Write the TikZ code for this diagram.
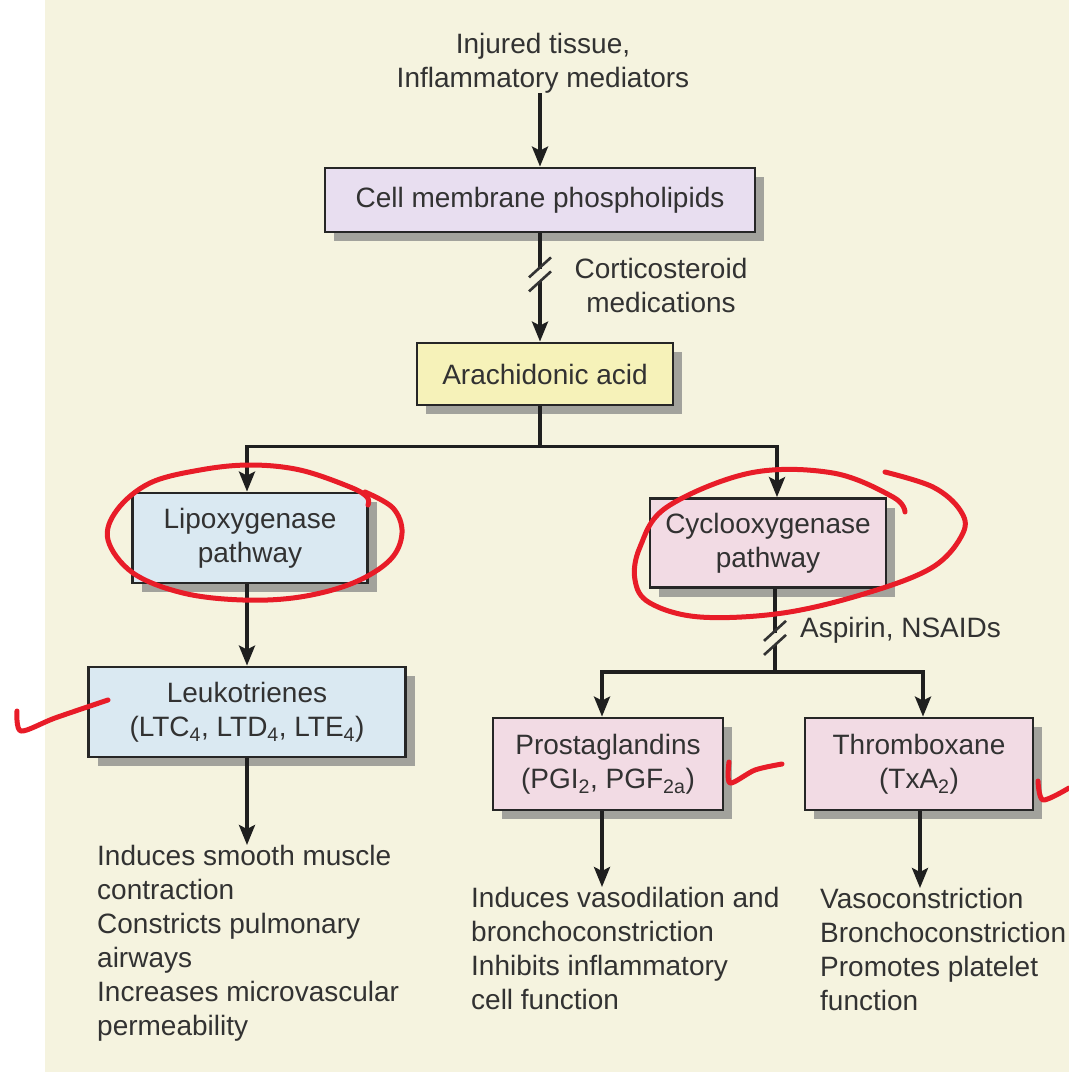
\documentclass[tikz,border=0pt]{standalone}
\usepackage{fontspec}
\setmainfont{Liberation Sans}
\usetikzlibrary{arrows.meta,shadows}
\definecolor{paper}{RGB}{245,243,223}
\definecolor{lav}{RGB}{232,222,240}
\definecolor{yel}{RGB}{246,242,185}
\definecolor{blu}{RGB}{218,233,242}
\definecolor{pnk}{RGB}{242,219,228}
\definecolor{txt}{RGB}{50,50,50}
\definecolor{pen}{RGB}{232,28,40}
\tikzset{
  box/.style={draw=black!85, line width=2.8pt, align=center, inner sep=0pt, text=txt,
    drop shadow={shadow xshift=9pt, shadow yshift=-9pt, fill=black!50, opacity=0.7}},
  lbl/.style={text=txt, inner sep=0pt},
  wire/.style={line width=3.6pt, draw=black!88},
  arr/.style={wire, -{Stealth[length=20pt,width=16pt,inset=4pt]}},
  slash/.style={line width=2.6pt, draw=black!80},
  redpen/.style={draw=pen, line width=5pt, line cap=round, line join=round}
}
\begin{document}
\begin{tikzpicture}[x=1pt,y=-1pt,font=\fontsize{28}{34}\selectfont]
\useasboundingbox (0,0) rectangle (1069,1072);
\fill[white] (0,0) rectangle (1069,1072);
\fill[paper] (45,0) rectangle (1069,1072);

% nodes
\node[lbl, align=center] (inj) at (543,63) {Injured tissue,\\Inflammatory mediators};
\node[box, fill=lav, minimum width=430pt, minimum height=64pt] (cell) at (540,200) {Cell membrane phospholipids};
\node[lbl, align=center] (cort) at (661,285) {Corticosteroid\\medications};
\node[box, fill=yel, minimum width=256pt, minimum height=62pt] (arach) at (545,374) {Arachidonic acid};
\node[box, fill=blu, minimum width=235pt, minimum height=90pt] (lipo) at (250,538) {Lipoxygenase\\pathway};
\node[box, fill=pnk, minimum width=236pt, minimum height=89pt] (cyclo) at (768,543) {Cyclooxygenase\\pathway};
\node[box, fill=blu, minimum width=317pt, minimum height=90pt] (leuk) at (247,712) {Leukotrienes\\(LTC\textsubscript{4}, LTD\textsubscript{4}, LTE\textsubscript{4})};
\node[lbl, anchor=base west] (asp) at (800,637) {Aspirin, NSAIDs};
\node[box, fill=pnk, minimum width=230pt, minimum height=92pt] (prost) at (608,764) {Prostaglandins\\(PGI\textsubscript{2}, PGF\textsubscript{2a})};
\node[box, fill=pnk, minimum width=228pt, minimum height=92pt] (thromb) at (919,764) {Thromboxane\\(TxA\textsubscript{2})};
\node[lbl, align=left, anchor=north west] (ltext) at (97,845) {Induces smooth muscle\\contraction\\Constricts pulmonary\\airways\\Increases microvascular\\permeability};
\node[lbl, align=left, anchor=north west] (ptext) at (471,887) {Induces vasodilation and\\bronchoconstriction\\Inhibits inflammatory\\cell function};
\node[lbl, align=left, anchor=north west] (ttext) at (820,888) {Vasoconstriction\\Bronchoconstriction\\Promotes platelet\\function};

% connectors
\draw[arr] (inj.south -| cell.north) -- (cell.north);
\draw[wire] (cell.south) -- ++(0,36) coordinate (g1);
\draw[arr] ([yshift=-12pt]g1) -- (cell.south |- arach.north);
\draw[slash] (g1) ++(-11,8) -- ++(22,-20);
\draw[slash] (g1) ++(-11,22) -- ++(22,-20);

\draw[wire] (cell.south |- arach.south) -- ++(0,40) coordinate (b1);
\draw[arr] (b1) -| ([xshift=-3pt]lipo.north);
\draw[arr] (b1) -| ([xshift=9pt]cyclo.north);
\draw[arr] ([xshift=-3pt]lipo.south) -- ([xshift=-3pt]lipo.south |- leuk.north);
\draw[arr] (leuk.south) -- (leuk.south |- ltext.north);

\draw[wire] ([xshift=7pt]cyclo.south) -- ++(0,44) coordinate (g2);
\draw[wire] ([yshift=-12pt]g2) -- ++(0,27) coordinate (b2);
\draw[slash] (g2) ++(-11,8) -- ++(22,-20);
\draw[slash] (g2) ++(-11,22) -- ++(22,-20);
\draw[arr] (b2) -| ([xshift=-6pt]prost.north);
\draw[arr] (b2) -| ([xshift=4pt]thromb.north);
\draw[arr] ([xshift=-6pt]prost.south) -- ([xshift=-6pt]prost.south |- ptext.north);
\draw[arr] ([xshift=1pt]thromb.south) -- ([xshift=1pt]thromb.south |- ttext.north);

% red annotations
\draw[redpen] plot[smooth, tension=0.6] coordinates {(365,492) (393,508) (402,533) (390,560) (353,583) (300,597) (243,600) (183,593) (133,573) (108,540) (117,510) (150,483) (200,470) (250,465) (300,470) (350,487) (367,497) (368,505)};
\draw[redpen] plot[smooth, tension=0.6] coordinates {(885,472) (933,487) (960,510) (963,533) (933,567) (867,593) (783,613) (700,617) (650,603) (635,580) (640,547) (667,507) (750,473) (833,473) (893,497) (905,512)};
\draw[redpen] plot[smooth, tension=0.5] coordinates {(17,711) (21,731) (55,718) (108,700)};
\draw[redpen] plot[smooth, tension=0.5] coordinates {(729,762) (730,783) (755,770) (782,764)};
\draw[redpen] plot[smooth, tension=0.5] coordinates {(1038,781) (1043,800) (1069,788)};
\end{tikzpicture}
\end{document}
